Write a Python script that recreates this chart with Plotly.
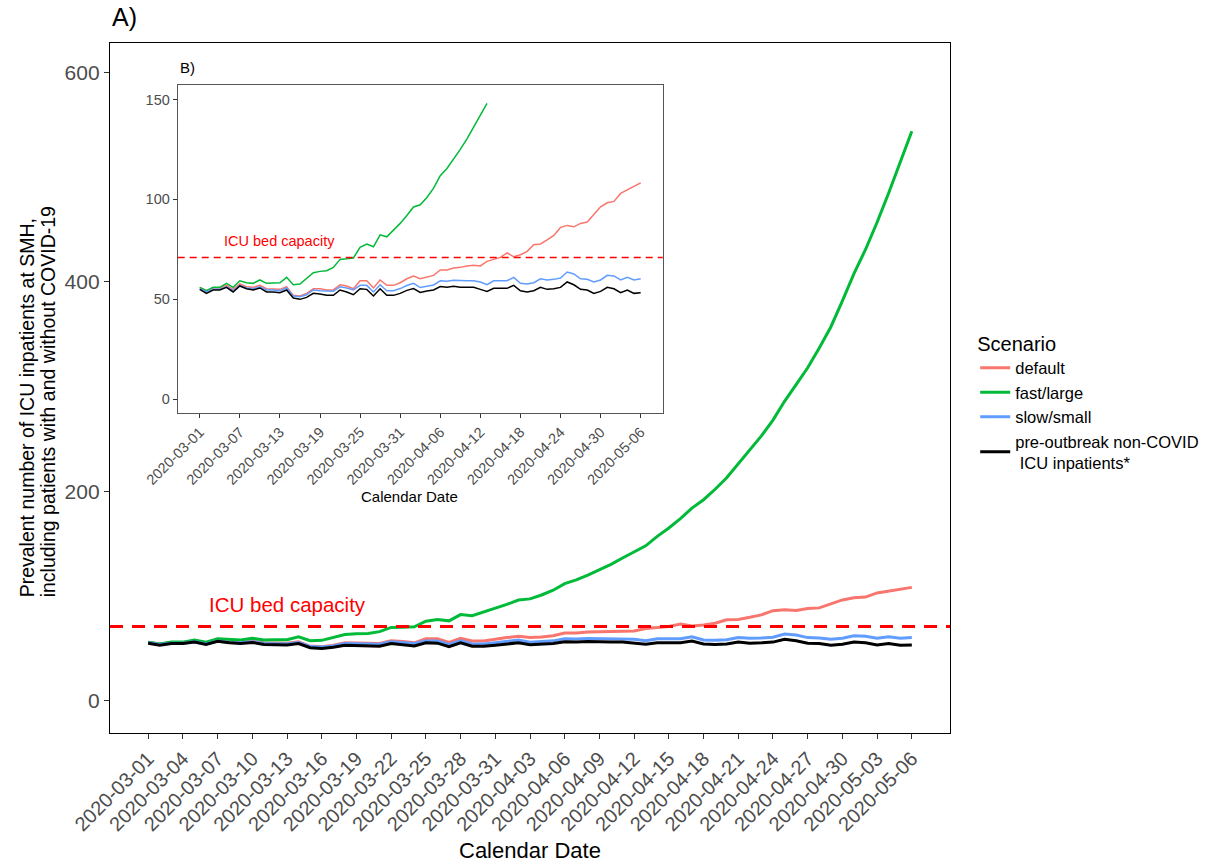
import pandas as pd
import plotly.graph_objects as go

# ---------------- data ----------------
start_date = "2020-03-01"
n_days = 67
dates = pd.date_range(start_date, periods=n_days)

icu_capacity = 71

default_vals = [56, 54.3, 55.7, 55.7, 57, 55, 57.7, 56.3, 56, 57, 55.3, 55.3, 55,
                56.3, 52, 51.7, 53, 55.3, 55.3, 54.7, 54.7, 57.3, 56.7, 55.3, 59.3, 59.3,
                55.7, 59.7, 57, 57,
                58.3, 60.3, 61.7, 60.3, 61, 62, 64.7, 64.7, 65.7, 66, 66.7, 67, 66.7, 69,
                70, 71, 73.3, 71.3, 72.3, 74, 77.3, 77.7, 79.7, 82, 86, 87, 86.3, 88, 88.7,
                92.3, 96.3, 98.3, 99, 103, 104.7, 106.5, 108.3]

fast_large = [56, 54.3, 56, 56, 58, 56, 59.3, 58.3, 58, 59.7, 58, 58.3, 58.3, 61, 57.3,
              57.7, 60.3, 63.3, 64, 64.3, 66, 70, 70.3, 70.7, 76, 77.7, 76.3, 82.3, 81.3,
              84.7, 88, 92, 96.2, 97.3, 101, 105.6, 111.9, 115.5, 120, 125, 130.3, 136.3,
              142.3,
              148, 157, 165, 174, 184, 192, 202, 213, 226, 239, 253, 268, 286, 302, 318,
              337, 357, 382, 408, 431, 457, 485, 514, 544]

slow_small = [55.3, 53.7, 55, 55, 56.3, 54.3, 57, 55.7, 55.3, 56.3, 54.7, 54.7, 54.3,
              55.7, 51.7, 51.3, 52.3, 54.7, 54.3, 54, 54, 56.3, 55.7, 54.7, 57, 57, 53.7,
              57.3, 54.3, 54.3,
              55.4, 56.9, 58, 55.9, 56.7, 57.2, 59.3, 59, 59.5, 59.3, 59.3, 59.3, 58.7,
              57.3, 59.3, 59.3, 59.3, 61, 58, 57.7, 58.3, 60.3, 59.7, 60, 60.7, 63.7, 62.7,
              60.3, 60, 58.7, 59.7, 62, 61.7, 59.7, 61, 59.7, 60.3]

pre_outbreak = [55, 53, 54.7, 54.7, 56, 53.7, 56.7, 55.3, 54.7, 55.7, 53.7, 53.7, 53.3,
                54.7, 50.7, 50, 51, 53, 52.7, 52, 52, 54.7, 53.7, 52.3, 55.3, 55, 51.7,
                55.3, 52, 52,
                53, 54.5, 55.4, 53.5, 54.2, 54.7, 56.4, 56, 56.5, 56, 56, 56, 55, 54,
                55.5, 55.5, 55.5, 57, 54.3, 53.7, 54.3, 56, 55, 55.3, 56, 58.7, 57.3, 55,
                54.7, 53, 54, 56, 55.3, 53.3, 54.7, 53, 53.3]

series_names = ["default", "fast/large", "slow/small",
                "pre-outbreak non-COVID<br> ICU inpatients*"]
series_vals = [default_vals, fast_large, slow_small, pre_outbreak]
series_colors = ["#F8766D", "#00BA38", "#619CFF", "#000000"]

main_tick_step = 3
inset_tick_step = 6
inset_ymax = 150

# ---------------- figure ----------------
FONT = "Liberation Sans, Arial, sans-serif"
fig = go.Figure()

for name, vals, col in zip(series_names, series_vals, series_colors):
    fig.add_trace(go.Scatter(x=dates, y=vals, mode="lines", name=name,
                             line=dict(color=col, width=3), xaxis="x", yaxis="y"))

for name, vals, col in zip(series_names, series_vals, series_colors):
    pts = [(d, v) for d, v in zip(dates, vals) if v <= inset_ymax]
    fig.add_trace(go.Scatter(x=[p[0] for p in pts], y=[p[1] for p in pts], mode="lines",
                             name=name, showlegend=False,
                             line=dict(color=col, width=1.5), xaxis="x2", yaxis="y2"))

pad = pd.Timedelta(days=3.3)
main_ticks = dates[::main_tick_step]
inset_ticks = dates[::inset_tick_step]

axis_common = dict(showgrid=False, zeroline=False, showline=True, mirror=True,
                   ticks="outside", tickcolor="#333333")

fig.update_layout(
    width=1216, height=863,
    margin=dict(l=110, r=266, t=43, b=130),
    paper_bgcolor="white", plot_bgcolor="white",
    font=dict(family=FONT, color="#000000"),
    xaxis=dict(domain=[0, 1], range=[dates[0] - pad, dates[-1] + pad],
               tickvals=main_ticks, ticktext=[d.strftime("%Y-%m-%d") for d in main_ticks],
               tickangle=-45, tickfont=dict(size=20, color="#4D4D4D"),
               linecolor="black", linewidth=1.3, ticklen=5, **axis_common),
    yaxis=dict(domain=[0, 1], range=[-30.8, 628.2], tickvals=[0, 200, 400, 600],
               tickfont=dict(size=21, color="#4D4D4D"),
               linecolor="black", linewidth=1.3, ticklen=5, **axis_common),
    xaxis2=dict(domain=[0.0806, 0.658], anchor="y2",
                range=[dates[0] - pad, dates[-1] + pad],
                tickvals=inset_ticks, ticktext=[d.strftime("%Y-%m-%d") for d in inset_ticks],
                tickangle=-45, tickfont=dict(size=14.5, color="#4D4D4D"),
                linecolor="#555555", linewidth=1, ticklen=4, **axis_common),
    yaxis2=dict(domain=[0.4638, 0.939], anchor="x2", range=[-6.85, 157.2],
                tickvals=[0, 50, 100, 150], tickfont=dict(size=14.5, color="#4D4D4D"),
                linecolor="#555555", linewidth=1, ticklen=4, **axis_common),
    legend=dict(x=1.03, y=0.592, xanchor="left", yanchor="top",
                title=dict(text="Scenario", font=dict(size=20)),
                font=dict(size=16.5, family=FONT), itemwidth=30,
                bgcolor="rgba(0,0,0,0)", tracegroupgap=0),
    showlegend=True,
)

# capacity lines
fig.add_shape(type="line", xref="x domain", yref="y", x0=0, x1=1,
              y0=icu_capacity, y1=icu_capacity,
              line=dict(color="#FF0000", width=3, dash="13px,9px"))
fig.add_shape(type="line", xref="x2 domain", yref="y2", x0=0, x1=1,
              y0=icu_capacity, y1=icu_capacity,
              line=dict(color="#FF0000", width=1.5, dash="7px,5px"))

annotations = [
    dict(text="ICU bed capacity", x=dates[12], y=91.5, xref="x", yref="y",
         showarrow=False, font=dict(size=20.5, color="#FF0000")),
    dict(text="ICU bed capacity", x=dates[12], y=79, xref="x2", yref="y2",
         showarrow=False, font=dict(size=14.5, color="#FF0000")),
    dict(text="A)", x=0.0, y=1.037, xref="paper", yref="paper", xanchor="left",
         yanchor="middle", showarrow=False, font=dict(size=25)),
    dict(text="B)", x=0.0806, y=0.965, xref="paper", yref="paper", xanchor="left",
         yanchor="middle", showarrow=False, font=dict(size=15)),
    dict(text="Calendar Date", x=0.5, y=-0.171, xref="paper", yref="paper",
         xanchor="center", yanchor="middle", showarrow=False, font=dict(size=22)),
    dict(text="Calendar Date", x=0.357, y=0.343, xref="paper", yref="paper",
         xanchor="center", yanchor="middle", showarrow=False, font=dict(size=15)),
    dict(text="Prevalent number of ICU inpatients at SMH,",
         x=-0.0988, y=0.193, xref="paper", yref="paper", textangle=-90,
         xanchor="center", yanchor="bottom", showarrow=False, font=dict(size=19.5)),
    dict(text="including patients with and without COVID-19",
         x=-0.0738, y=0.193, xref="paper", yref="paper", textangle=-90,
         xanchor="center", yanchor="bottom", showarrow=False, font=dict(size=19.5)),
]
fig.update_layout(annotations=annotations)

fig.write_html("out.html")
